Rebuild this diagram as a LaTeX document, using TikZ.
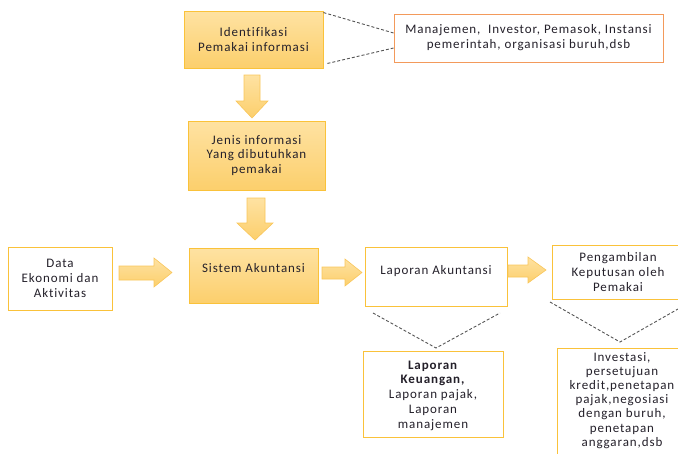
\documentclass[tikz,border=0pt]{standalone}
\usepackage{fontspec}
\setmainfont{Carlito}[LetterSpace=7, Ligatures=NoCommon]
\usetikzlibrary{calc}
\begin{document}
\begin{tikzpicture}[x=1pt,y=-1pt,
  font=\fontsize{13}{14.8}\selectfont,
  every node/.style={text=txtc, align=center, inner sep=0pt},
  goldbox/.style={draw=boxedge, line width=0.9pt, top color=goldtop, bottom color=goldbot, minimum width=#1},
  plainbox/.style={draw=boxedge, line width=0.9pt, fill=white},
  orangebox/.style={draw=orangeedge, line width=0.9pt, fill=white},
  txt/.style={text=txtc, align=center},
  linkline/.style={draw=linkc, dashed, dash pattern=on 3pt off 2pt, line width=0.9pt},
  blockarrow/.style={draw=arrowedge, line width=0.6pt, top color=goldtop, bottom color=goldbot, line join=miter}]
\definecolor{txtc}{HTML}{24202A}
\definecolor{boxedge}{HTML}{FAC23A}
\definecolor{orangeedge}{HTML}{F39A5B}
\definecolor{arrowedge}{HTML}{F9C65A}
\definecolor{goldtop}{HTML}{FEE2A2}
\definecolor{goldbot}{HTML}{FCCF6C}
\definecolor{linkc}{HTML}{555555}

\useasboundingbox (0,0) rectangle (678,453);
\clip (0,0) rectangle (678,453);

% ---- boxes ----
\node[goldbox=139pt, minimum height=57pt] (ident) at (253.5,39.5) {Identifikasi\\Pemakai informasi};
\node[orangebox, minimum width=269pt, minimum height=48pt] (users) at (528.5,38) {Manajemen,\ \ Investor, Pemasok, Instansi\\pemerintah, organisasi buruh,dsb};
\node[goldbox=137pt, minimum height=69pt] (jenis) at (256.5,155.5) {Jenis informasi\\Yang dibutuhkan\\pemakai};
\node[goldbox=129pt, minimum height=55pt] (sistem) at (253.5,275.5) {};
\node[txt] at ($(sistem.center)+(0,-7)$) {Sistem Akuntansi};
\node[plainbox, minimum width=104pt, minimum height=63pt] (data) at (60,278.5) {Data\\Ekonomi dan\\Aktivitas};
\node[plainbox, minimum width=142pt, minimum height=59pt] (lapak) at (436,277) {};
\node[txt] at ($(lapak.center)+(0,-6)$) {Laporan Akuntansi};
\node[plainbox, minimum width=132pt, minimum height=54pt] (ambil) at (618,272) {Pengambilan\\Keputusan oleh\\Pemakai};
\node[plainbox, minimum width=140pt, minimum height=86pt] (lapkeu) at (433,394) {};
\node[txt] at ($(lapkeu.center)+(0,1.5)$) {\textbf{Laporan}\\\textbf{Keuangan,}\\Laporan pajak,\\Laporan\\manajemen};
\node[plainbox, minimum width=130pt, minimum height=116pt, anchor=north] (invest) at (622,347.5) {};
\node[txt, anchor=north, font=\fontsize{13}{14.2}\selectfont] at (622,352) {Investasi,\\persetujuan\\kredit,penetapan\\pajak,negosiasi\\dengan buruh,\\penetapan\\anggaran,dsb};

% ---- dashed call-out lines ----
\coordinate (lk) at (436,348);
\coordinate (ik) at (620,342);
\path[linkline] (ident.north east) ++(0,2) -- (users.west |- 0,33);
\path[linkline] (ident.south east) ++(4,-5) -- (users.west |- 0,48);
\path[linkline] (373,313) -- (lk) -- (500,313);
\path[linkline] (550,302) -- (ik) -- (678,309);

% ---- block arrows ----
% down: ident -> jenis
\path[blockarrow] (244,75) -- (260,75) -- (260,101) -- (268,101) -- (252,118) -- (236,101) -- (244,101) -- cycle;
% down: jenis -> sistem
\path[blockarrow] (247,198) -- (265,198) -- (265,223) -- (273,223) -- (255,240) -- (237,223) -- (247,223) -- cycle;
% right: data -> sistem
\path[blockarrow] (119,266) -- (154,266) -- (154,258) -- (172,272.5) -- (154,287) -- (154,280) -- (119,280) -- cycle;
% right: sistem -> laporan akuntansi
\path[blockarrow] (322,267) -- (345,267) -- (345,259) -- (362,272.5) -- (345,286) -- (345,279) -- (322,279) -- cycle;
% right: laporan akuntansi -> pengambilan keputusan
\path[blockarrow] (508,265) -- (528,265) -- (528,257) -- (546,270) -- (528,283) -- (528,277) -- (508,277) -- cycle;
\end{tikzpicture}
\end{document}
